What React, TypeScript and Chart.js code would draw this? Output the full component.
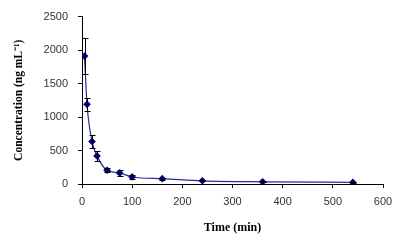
import React, { useEffect, useRef } from "react";
import { Chart, registerables } from "chart.js";

Chart.register(...registerables);

const times = [5, 10, 20, 30, 50, 75, 100, 160, 240, 360, 540];
const concentrations = [1910, 1190, 635, 420, 205, 165, 105, 80, 48, 33, 24];
const errors = [270, 100, 90, 70, 30, 40, 30, 15, 8, 5, 5];

const xTicks = [0, 100, 200, 300, 400, 500, 600];
const yTicks = [0, 500, 1000, 1500, 2000, 2500];

const errorBarPlugin = {
  id: "errorBars",
  afterDatasetsDraw(chart: any) {
    const ctx = chart.ctx;
    const xs = chart.scales.x;
    const ys = chart.scales.y;
    ctx.save();
    ctx.strokeStyle = "#000000";
    ctx.lineWidth = 1;
    times.forEach((t, i) => {
      const x = Math.round(xs.getPixelForValue(t)) + 0.5;
      const yTop = Math.round(ys.getPixelForValue(concentrations[i] + errors[i])) + 0.5;
      const yBot = Math.round(ys.getPixelForValue(concentrations[i] - errors[i])) + 0.5;
      ctx.beginPath();
      ctx.moveTo(x, yTop);
      ctx.lineTo(x, yBot);
      ctx.moveTo(x - 3, yTop);
      ctx.lineTo(x + 3, yTop);
      ctx.moveTo(x - 3, yBot);
      ctx.lineTo(x + 3, yBot);
      ctx.stroke();
    });
    ctx.restore();
  },
};

export default function App() {
  const ref = useRef<HTMLCanvasElement | null>(null);
  useEffect(() => {
    if (!ref.current) return;
    const chart = new Chart(ref.current, {
      type: "line",
      data: {
        datasets: [
          {
            data: times.map((t, i) => ({ x: t, y: concentrations[i] })),
            borderColor: "#2a2a9a",
            borderWidth: 1.2,
            backgroundColor: "#000080",
            pointBackgroundColor: "#000080",
            pointBorderColor: "#000080",
            pointStyle: "rectRot",
            pointRadius: 3,
            cubicInterpolationMode: "monotone",
            fill: false,
          },
        ],
      },
      options: {
        animation: false,
        responsive: false,
        devicePixelRatio: 1,
        layout: { padding: { left: 0, right: 17, top: 12, bottom: 0 } },
        plugins: { legend: { display: false }, tooltip: { enabled: false } },
        scales: {
          x: {
            type: "linear",
            min: 0,
            max: 600,
            afterFit: (s: any) => {
              s.height = 64;
            },
            afterBuildTicks: (s: any) => {
              s.ticks = xTicks.map((v) => ({ value: v }));
            },
            grid: {
              display: true,
              drawOnChartArea: false,
              drawTicks: true,
              tickLength: 4,
              color: "#000000",
            },
            border: { display: true, color: "#000000", width: 1 },
            ticks: {
              padding: 7,
              color: "#333333",
              font: { family: "Liberation Sans", size: 11 },
              maxRotation: 0,
              callback: (v: any) => String(v),
            },
            title: {
              display: true,
              text: "Time (min)",
              color: "#000000",
              font: { family: "Liberation Serif", size: 12, weight: "bold" },
              padding: { top: 0, bottom: 13 },
            },
          },
          y: {
            type: "linear",
            min: 0,
            max: 2500,
            afterFit: (s: any) => {
              s.width = 82;
            },
            afterBuildTicks: (s: any) => {
              s.ticks = yTicks.map((v) => ({ value: v }));
            },
            grid: {
              display: true,
              drawOnChartArea: false,
              drawTicks: true,
              tickLength: 4,
              color: "#000000",
            },
            border: { display: true, color: "#000000", width: 1 },
            ticks: {
              padding: 10,
              color: "#333333",
              font: { family: "Liberation Sans", size: 11 },
              callback: (v: any) => String(v),
            },
            title: {
              display: true,
              text: "Concentration (ng mL\u207B\u00B9)",
              color: "#000000",
              font: { family: "Liberation Serif", size: 11.5, weight: "bold" },
              padding: { top: 12, bottom: 0 },
            },
          },
        },
      } as any,
      plugins: [errorBarPlugin],
    });
    return () => chart.destroy();
  }, []);
  return (
    <div style={{ position: "absolute", left: 0, top: 0, width: 400, height: 248, background: "#ffffff" }}>
      <canvas ref={ref} width={400} height={248} style={{ width: 400, height: 248 }} />
    </div>
  );
}
